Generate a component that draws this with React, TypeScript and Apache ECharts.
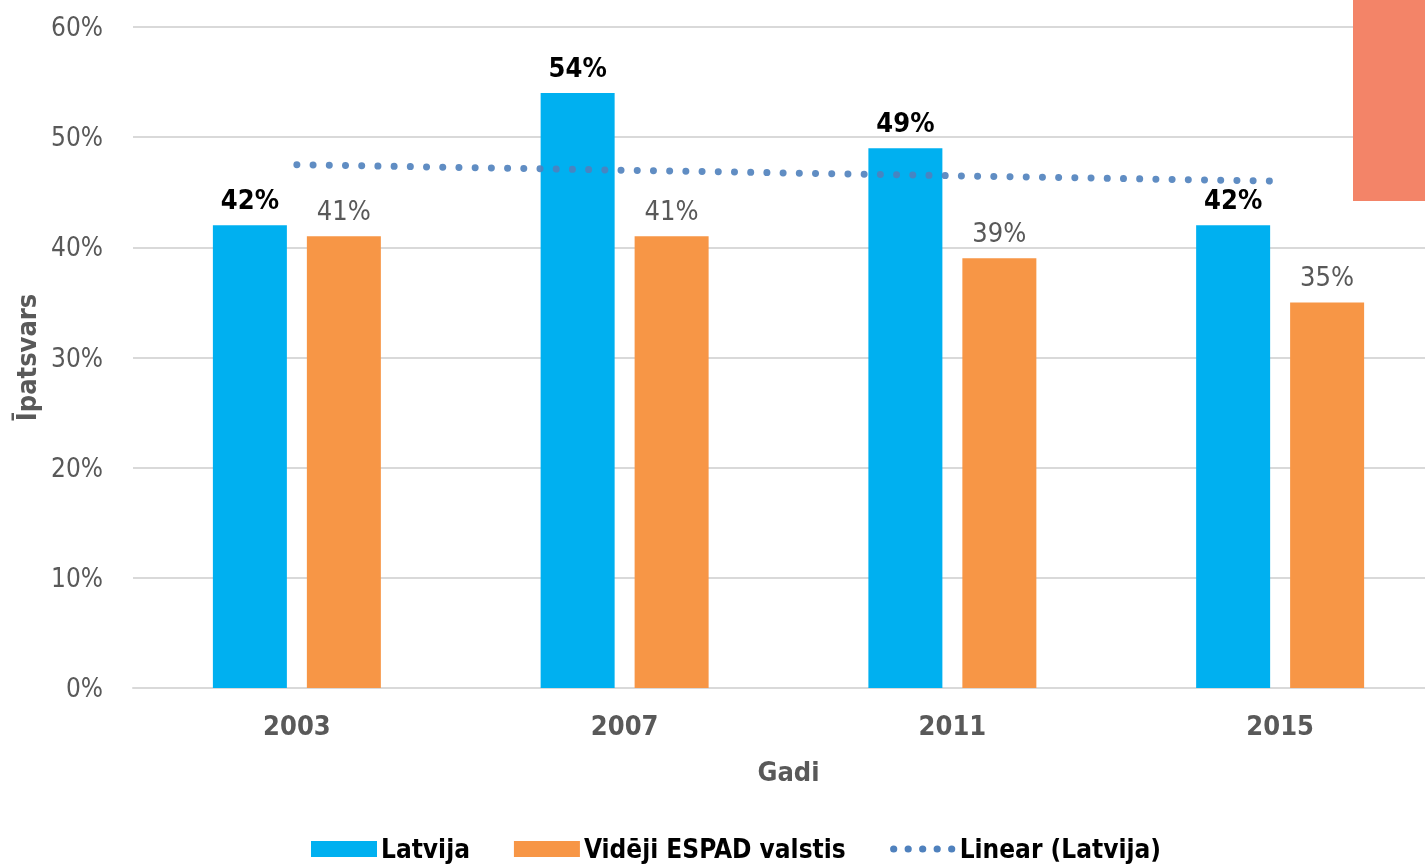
import React, { useEffect, useRef } from "react";
import * as echarts from "echarts";

const years = ["2003", "2007", "2011", "2015"];
const latvija = [42, 54, 49, 42];
const espad = [41, 41, 39, 35];
const trend = [47.5, 47, 46.5, 46];
const yTicks = [0, 10, 20, 30, 40, 50, 60];

const FONT = "'Liberation Sans Narrow', 'Arial Narrow', 'DejaVu Sans Condensed', sans-serif";

function dotsPath(): string {
  // five round dots in a 66 x 16 box
  const parts: string[] = ["M0,0L0.01,0L0.01,0.01Z", "M66,16L65.99,16L65.99,15.99Z"];
  const r = 3.6;
  for (let i = 0; i < 5; i++) {
    const cx = 4 + i * 14.5;
    parts.push(`M${cx - r},8a${r},${r} 0 1,0 ${2 * r},0a${r},${r} 0 1,0 ${-2 * r},0Z`);
  }
  return "path://" + parts.join(" ");
}

export default function App() {
  const ref = useRef<HTMLDivElement>(null);
  useEffect(() => {
    if (!ref.current) return;
    const chart = echarts.init(ref.current, null, { renderer: "svg" });
    chart.setOption({
      animation: false,
      textStyle: { fontFamily: FONT },
      grid: { left: 133, top: 27, width: 1311, height: 661, containLabel: false },
      legend: {
        top: 831,
        left: 306,
        itemWidth: 66,
        itemHeight: 16,
        itemGap: 44,
        textStyle: { fontFamily: FONT, fontSize: 26, fontWeight: "bold", color: "#000", padding: [0, 0, 0, -1] },
        data: [
          { name: "Latvija", icon: "rect" },
          { name: "Vidēji ESPAD valstis", icon: "rect" },
          { name: "Linear (Latvija)", icon: dotsPath(), itemStyle: { color: "#4F81BD" } },
        ],
      },
      xAxis: {
        type: "category",
        data: years,
        name: "Gadi",
        nameLocation: "middle",
        nameGap: 70,
        nameTextStyle: { fontFamily: FONT, fontSize: 27, fontWeight: "bold", color: "#595959" },
        axisLine: { lineStyle: { color: "#D9D9D9", width: 2 } },
        axisTick: { show: false },
        axisLabel: { fontFamily: FONT, fontSize: 27, fontWeight: "bold", color: "#595959", margin: 24 },
      },
      yAxis: {
        type: "value",
        min: yTicks[0],
        max: yTicks[yTicks.length - 1],
        interval: 10,
        name: "Īpatsvars",
        nameLocation: "middle",
        nameGap: 93,
        nameTextStyle: { fontFamily: FONT, fontSize: 27, fontWeight: "bold", color: "#595959" },
        axisLine: { show: false },
        axisTick: { show: false },
        splitLine: { lineStyle: { color: "#D9D9D9", width: 2 } },
        axisLabel: { fontFamily: FONT, fontSize: 26, color: "#595959", margin: 30, formatter: "{value}%" },
      },
      series: [
        {
          name: "Latvija",
          type: "bar",
          data: latvija,
          barWidth: 74,
          barGap: "27%",
          itemStyle: { color: "#00B0F0" },
          label: {
            show: true,
            position: "top",
            distance: 12,
            formatter: "{c}%",
            fontFamily: FONT,
            fontSize: 27,
            fontWeight: "bold",
            color: "#000",
          },
        },
        {
          name: "Vidēji ESPAD valstis",
          type: "bar",
          data: espad,
          barWidth: 74,
          itemStyle: { color: "#F79646" },
          label: {
            show: true,
            position: "top",
            distance: 12,
            formatter: "{c}%",
            fontFamily: FONT,
            fontSize: 27,
            color: "#595959",
          },
        },
        {
          name: "Linear (Latvija)",
          type: "line",
          data: trend,
          symbol: "none",
          z: 5,
          itemStyle: { color: "#4F81BD" },
          lineStyle: { color: "#4F81BD", width: 7, type: [0.01, 16.2], cap: "round", opacity: 0.9 },
        },
      ],
      graphic: [
        { type: "rect", left: 1353, top: 0, shape: { width: 72, height: 201 }, style: { fill: "#F38468" }, z: 10 },
      ],
    });
    return () => chart.dispose();
  }, []);
  return (
    <div style={{ position: "fixed", left: 0, top: 0, width: 1425, height: 866, overflow: "hidden" }}>
      <div ref={ref} style={{ width: 1460, height: 866 }} />
    </div>
  );
}
